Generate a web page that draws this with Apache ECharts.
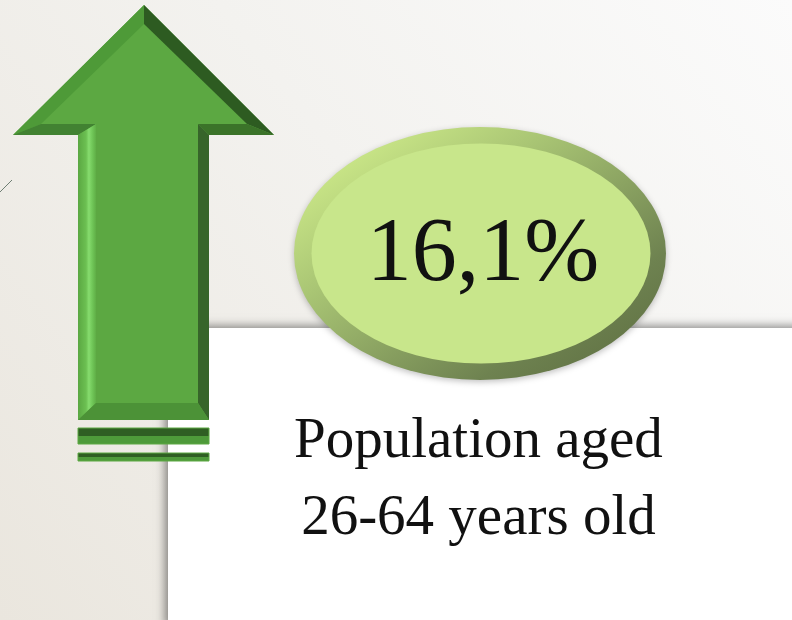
<!DOCTYPE html>
<html><head><meta charset="utf-8">
<script src="https://cdn.jsdelivr.net/npm/echarts@6/dist/echarts.min.js"></script>
<style>html,body{margin:0;padding:0;}#c{width:792px;height:620px;}</style>
</head><body><div id="c"></div>
<script>
// data
var categories = ['Population aged 26-64 years old'];
var values = [16.1];
var captionLines = ['Population aged', '26-64 years old'];

function fmt(v){ return String(v).replace('.', ',') + '%'; }

var chart = echarts.init(document.getElementById('c'));
var FONT = '"Liberation Serif", "DejaVu Serif", serif';

// arrow geometry (decorative)
var A=[144,5],B=[274,135],C=[209,135],D=[209,420],E=[78,420],F=[78,135],G=[13,135];
var A2=[144,24],B2=[247,124],C2=[198,124],D2=[198,403],E2=[96,403],F2=[96,124],G2=[41,124];
function poly(pts, color, z){ return {type:'polygon', shape:{points:pts}, style:{fill:color}, z:z, silent:true}; }

var graphics = [
  {type:'rect', shape:{x:0,y:0,width:792,height:620}, z:0, silent:true,
   style:{fill:new echarts.graphic.LinearGradient(0,1,1,0,[{offset:0,color:'#eae6de'},{offset:0.55,color:'#f3f2ef'},{offset:1,color:'#fbfbfb'}])}},
  {type:'line', shape:{x1:0,y1:192,x2:12,y2:180}, style:{stroke:'#6f7f74',lineWidth:1}, z:1, silent:true},
  {type:'rect', shape:{x:168,y:328,width:640,height:300}, z:2, silent:true,
   style:{fill:'#ffffff', shadowBlur:9, shadowColor:'rgba(0,0,0,0.45)', shadowOffsetX:-3, shadowOffsetY:-2}},
  // arrow base
  poly([A,B,C,D,E,F,G], '#5ca842', 3),
  poly([A,G,G2,A2], '#4e9a38', 4),
  poly([A,B,B2,A2], '#2d5b21', 4),
  poly([G,F,F2,G2], '#428232', 4),
  poly([B,C,C2,B2], '#3b7329', 4),
  {type:'polygon', shape:{points:[F,E,E2,F2]}, z:4, silent:true,
   style:{fill:new echarts.graphic.LinearGradient(0,0,1,0,[{offset:0,color:'#5aa742'},{offset:0.45,color:'#6cc052'},{offset:0.6,color:'#86dc6e'},{offset:0.8,color:'#70c658'},{offset:1,color:'#5fae46'}])}},
  poly([C,D,D2,C2], '#37652a', 4),
  poly([E,D,D2,E2], '#4c9237', 4),
  // bars
  {type:'rect', shape:{x:78,y:428,width:131,height:16}, z:4, silent:true,
   style:{fill:new echarts.graphic.LinearGradient(0,0,0,1,[{offset:0,color:'#2f5e23'},{offset:0.5,color:'#2f5e23'},{offset:0.5,color:'#4e9a3a'},{offset:1,color:'#4e9a3a'}]), stroke:'#5ca842', lineWidth:1}},
  {type:'rect', shape:{x:78,y:453,width:131,height:8}, z:4, silent:true,
   style:{fill:new echarts.graphic.LinearGradient(0,0,0,1,[{offset:0,color:'#2f5e23'},{offset:0.5,color:'#2f5e23'},{offset:0.5,color:'#4e9a3a'},{offset:1,color:'#4e9a3a'}]), stroke:'#5ca842', lineWidth:1}},
  // caption
  {type:'text', z:6, silent:true,
   style:{text:captionLines.join('\n'), font:'57px ' + FONT, fill:'#111', textAlign:'center', lineHeight:77},
   left:480-186, top:404}
];

chart.setOption({
  animation:false,
  backgroundColor:'#f4f3f0',
  graphic:{elements:graphics},
  grid:{left:294, right:792-666, top:127, bottom:620-380},
  xAxis:{type:'category', data:categories, show:false},
  yAxis:{type:'value', min:0, max:values[0]*2, show:false},
  series:[
    {type:'scatter', z:10, symbol:'circle', symbolSize:[372,253], data:values, silent:true,
     itemStyle:{color:new echarts.graphic.LinearGradient(0,0,1,1,[{offset:0,color:'#dcf992'},{offset:0.35,color:'#a9c574'},{offset:0.75,color:'#6e8250'},{offset:1,color:'#5a6a3e'}]),
       shadowBlur:6, shadowColor:'rgba(0,0,0,0.25)', shadowOffsetY:2, opacity:1}},
    {type:'scatter', z:11, symbol:'circle', symbolSize:[339,220], symbolOffset:[1,0], data:values, silent:true,
     itemStyle:{color:'#c8e68b', opacity:1},
     label:{show:true, position:'inside', formatter:function(p){return fmt(p.value);},
       fontFamily:FONT, fontSize:90, color:'#111', offset:[2,3]}}
  ]
});
</script></body></html>
